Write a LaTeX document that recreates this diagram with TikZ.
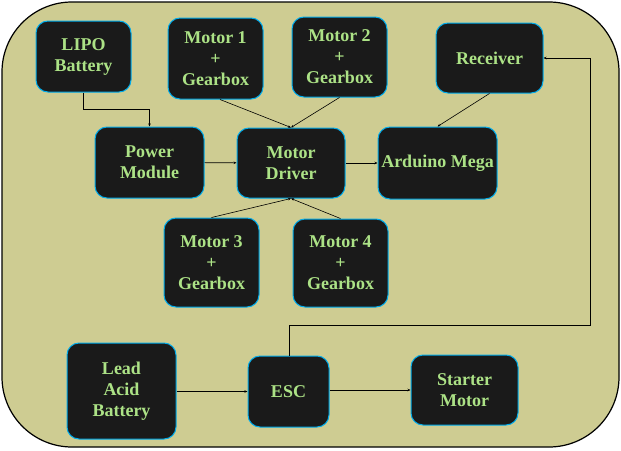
\documentclass[tikz,border=0pt]{standalone}
\usepackage{fontspec}
\setmainfont{Liberation Serif}
\usepackage{tikz}
\usetikzlibrary{positioning}
\usetikzlibrary{arrows.meta}
\definecolor{panel}{RGB}{206,204,146}
\definecolor{boxfill}{RGB}{26,26,26}
\definecolor{boxline}{RGB}{0,172,236}
\definecolor{labelgreen}{RGB}{172,226,134}
\tikzset{x=1pt, y=-1pt, % pixel-like units, y pointing down
block/.style={ % Sets the properties for each box
draw=boxline,
line width=1pt,
fill=boxfill,
rounded corners=12pt,
text=labelgreen,
font=\fontsize{18}{21}\selectfont\bfseries,
align=center,
inner sep=0pt},
link/.style={ % Sets the properties for each connector
draw,
-{Stealth[length=3pt,width=2.5pt]}, % small filled arrow heads
line width=0.6pt}}

\begin{document}
\begin{tikzpicture}
				\useasboundingbox (0,0) rectangle (621,450);
				\draw[fill=panel, line width=1.2pt, rounded corners=70pt] (2,2) rectangle (619,447);

				\node[block, minimum width=95pt, minimum height=71pt] (lipo) at (83.5,56.5) {LIPO\\Battery};
				\node[block, minimum width=95pt, minimum height=81pt] (motorA) at (215.5,58.5) {Motor 1\\+\\Gearbox};
				\node[block, minimum width=95pt, minimum height=80pt] (motorB) at (339.5,57) {Motor 2\\+\\Gearbox};
				\node[block, minimum width=107pt, minimum height=70pt] (receiver) at (489.5,58) {Receiver};
				\node[block, minimum width=109pt, minimum height=71pt] (power) at (149.5,162.5) {Power\\Module};
				\node[block, minimum width=108pt, minimum height=70pt] (driver) at (291,163) {Motor\\Driver};
				\node[block, minimum width=119pt, minimum height=72pt] (arduino) at (437.5,163) {Arduino Mega};
				\node[block, minimum width=95pt, minimum height=89pt] (motorC) at (211.5,262.5) {Motor 3\\+\\Gearbox};
				\node[block, minimum width=95pt, minimum height=88pt] (motorD) at (340.5,263) {Motor 4\\+\\Gearbox};
				\node[block, minimum width=109pt, minimum height=96pt] (lead) at (121.5,391) {Lead\\Acid\\Battery};
				\node[block, minimum width=81pt, minimum height=71pt] (esc) at (288.5,391.5) {ESC};
				\node[block, minimum width=107pt, minimum height=70pt] (starter) at (464.5,390) {Starter\\Motor};

				\coordinate (lipoturn) at (83,109);
				\coordinate (escturn) at (289,325);
				\coordinate (sideturn) at (590,325);

				\draw[link] (lipo.south) |- (lipoturn -| power.north) -- (power.north);
				\draw[link] (power) -- (driver);
				\draw[link] (driver) -- (arduino);
				\draw[link] (motorA.south) ++(4.5,0) -- (driver.north);
				\draw[link] (motorB.south) -- (driver.north);
				\draw[link] (motorC.north) -- (driver.south);
				\draw[link] (motorD.north) -- (driver.south);
				\draw[link] (receiver.south) -- (arduino.north);
				\draw[link] (lead.east |- esc.west) -- (esc.west);
				\draw[link] (esc.east |- starter.west) -- (starter.west);
				\draw[link] (esc.north -| escturn) -- (escturn) -- (sideturn) |- (receiver.east);
			\end{tikzpicture}
\end{document}
